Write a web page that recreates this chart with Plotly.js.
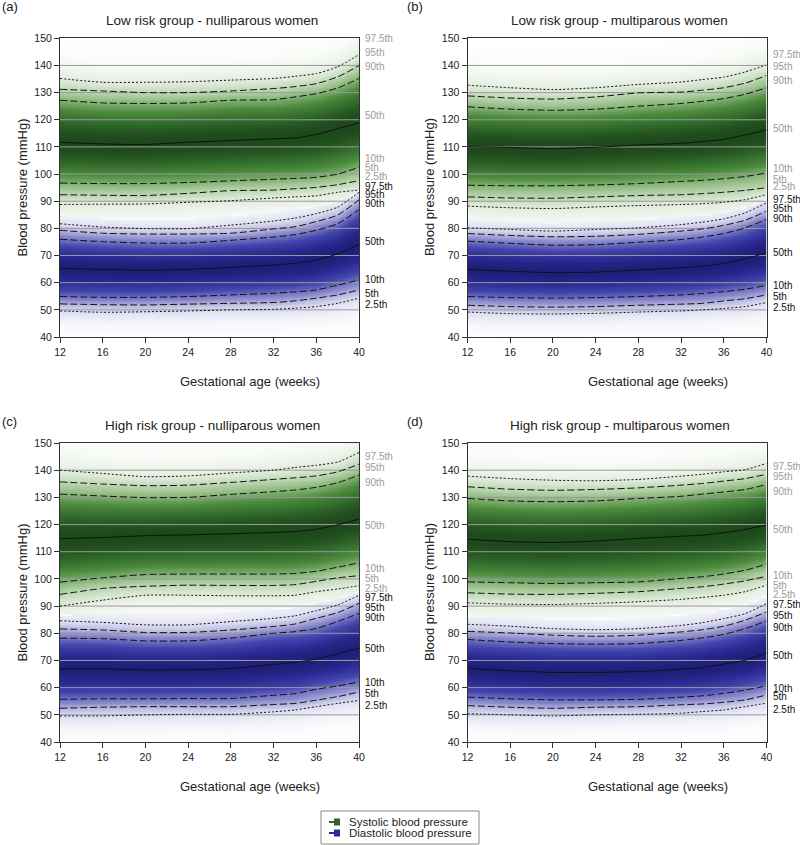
<!DOCTYPE html>
<html>
<head>
<meta charset="utf-8">
<script src="https://cdn.plot.ly/plotly-3.0.1.min.js"></script>
<style>
  body { margin: 0; background: #fff; }
  #chart { width: 800px; height: 845px; }
</style>
</head>
<body>
<div id="chart"></div>
<script>
// gestational weeks where the centile curves were read
var weeks = [12, 16, 20, 24, 28, 32, 34, 36, 38, 40];
var pctNames = ['2.5th', '5th', '10th', '50th', '90th', '95th', '97.5th'];
var pctZ = [-1.96, -1.645, -1.2816, 0, 1.2816, 1.645, 1.96];

// rows: 2.5th, 5th, 10th, 50th, 90th, 95th, 97.5th  (mmHg)
var aSys = [
  [88.8, 88.9, 89.0, 89.6, 90.2, 91.2, 91.6, 92.0, 93.3, 94.1],
  [92.4, 92.2, 92.1, 92.9, 93.9, 94.1, 94.6, 95.1, 96.1, 97.6],
  [96.7, 96.5, 96.5, 96.9, 97.5, 98.1, 98.4, 98.8, 100.0, 102.5],
  [111.7, 111.1, 110.9, 111.7, 112.3, 113.0, 113.3, 114.6, 116.7, 118.9],
  [127.2, 126.2, 126.0, 126.2, 127.2, 127.4, 128.4, 129.6, 131.7, 135.2],
  [131.2, 130.6, 130.0, 130.0, 130.6, 131.5, 132.2, 133.3, 135.8, 139.9],
  [135.2, 133.8, 133.8, 134.0, 134.6, 135.2, 136.0, 137.0, 139.5, 144.0]
];
var aDia = [
  [49.6, 49.1, 49.3, 49.6, 50.0, 50.2, 50.6, 51.2, 52.4, 54.3],
  [52.2, 51.9, 51.8, 52.1, 52.4, 52.7, 53.3, 54.3, 55.5, 57.3],
  [54.9, 54.6, 54.6, 54.9, 55.5, 56.1, 56.6, 57.3, 59.1, 61.0],
  [65.2, 64.9, 64.6, 64.9, 65.6, 66.5, 67.1, 68.4, 70.6, 74.1],
  [76.0, 75.1, 74.6, 74.6, 75.6, 76.8, 77.7, 79.3, 81.7, 86.9],
  [79.3, 78.2, 77.9, 77.9, 78.2, 79.8, 80.6, 82.5, 84.9, 90.5],
  [81.7, 80.5, 79.9, 79.9, 81.2, 82.7, 83.8, 85.4, 87.8, 93.3]
];
var bSys = [
  [88.2, 87.6, 87.3, 87.9, 88.4, 88.8, 89.1, 89.6, 90.6, 92.4],
  [91.6, 91.2, 91.1, 91.6, 92.1, 92.4, 92.8, 93.3, 94.0, 95.0],
  [95.9, 95.7, 95.7, 96.0, 96.5, 97.3, 97.7, 98.3, 99.1, 100.4],
  [110.1, 109.8, 109.4, 109.9, 110.7, 111.3, 112.0, 112.8, 114.4, 116.2],
  [124.8, 123.9, 123.5, 123.9, 125.0, 126.0, 126.8, 127.8, 129.4, 131.8],
  [128.8, 128.0, 127.6, 128.4, 129.9, 130.2, 130.9, 131.8, 133.5, 136.3],
  [132.7, 131.8, 131.1, 131.8, 133.0, 133.9, 134.8, 135.7, 137.6, 140.2]
];
var bDia = [
  [49.2, 48.6, 48.5, 48.7, 49.2, 49.6, 50.0, 50.5, 51.2, 52.7],
  [51.7, 51.2, 51.0, 51.2, 51.7, 52.1, 52.4, 53.3, 54.1, 55.5],
  [54.9, 54.5, 54.3, 54.5, 54.9, 55.5, 56.0, 56.7, 57.6, 59.0],
  [64.9, 64.2, 63.7, 63.9, 64.7, 65.5, 66.1, 67.1, 68.8, 71.0],
  [75.3, 74.5, 73.8, 74.0, 74.9, 75.9, 76.8, 78.1, 80.2, 83.3],
  [78.1, 77.4, 76.9, 77.1, 77.8, 79.0, 79.8, 81.1, 83.0, 86.3],
  [80.2, 79.6, 79.0, 79.6, 80.2, 81.4, 82.3, 83.5, 85.7, 89.4]
];
var cSys = [
  [90.0, 92.2, 94.0, 94.0, 93.8, 93.8, 94.0, 95.3, 96.3, 97.5],
  [94.3, 96.5, 97.3, 97.7, 97.6, 97.6, 97.9, 99.1, 100.4, 101.2],
  [98.8, 100.4, 101.6, 101.8, 101.8, 101.8, 102.0, 102.8, 104.3, 105.9],
  [114.8, 115.2, 115.9, 116.2, 116.6, 117.1, 117.4, 118.3, 119.9, 122.0],
  [131.2, 130.5, 129.9, 130.0, 131.1, 132.1, 132.7, 133.7, 135.4, 138.2],
  [135.7, 134.9, 134.3, 134.5, 135.5, 136.6, 137.2, 137.9, 139.4, 142.2],
  [140.0, 138.8, 137.6, 137.9, 139.0, 140.0, 141.0, 141.8, 143.0, 146.5]
];
var cDia = [
  [49.6, 49.6, 50.0, 50.2, 50.2, 51.1, 51.8, 53.0, 54.2, 55.3],
  [52.4, 52.8, 53.0, 53.0, 53.0, 53.8, 54.2, 55.4, 56.7, 58.4],
  [55.7, 55.9, 55.9, 56.0, 56.0, 57.2, 57.8, 59.4, 60.6, 62.1],
  [66.9, 66.9, 66.5, 66.6, 67.0, 68.5, 69.3, 70.5, 72.4, 74.5],
  [78.2, 78.0, 77.2, 77.2, 78.2, 80.0, 80.6, 81.8, 84.3, 87.3],
  [81.6, 81.2, 80.3, 80.3, 81.2, 82.5, 83.4, 85.5, 87.6, 91.0],
  [84.6, 84.0, 83.1, 83.1, 84.3, 85.5, 86.4, 88.3, 90.4, 94.0]
];
var dSys = [
  [91.2, 90.7, 90.6, 91.0, 91.6, 92.5, 93.2, 94.0, 95.3, 97.7],
  [94.9, 94.4, 94.3, 94.7, 95.3, 96.5, 97.1, 98.1, 99.3, 101.0],
  [98.9, 98.6, 98.3, 98.6, 98.9, 100.2, 100.8, 101.8, 103.2, 105.4],
  [114.6, 113.7, 113.4, 113.9, 114.9, 115.7, 116.1, 117.0, 118.2, 119.8],
  [129.6, 128.7, 128.4, 128.7, 129.6, 130.4, 131.2, 132.0, 132.9, 134.7],
  [133.9, 133.0, 132.6, 132.9, 133.5, 134.5, 135.1, 136.0, 136.9, 138.5],
  [137.8, 136.9, 136.3, 136.1, 136.6, 137.8, 138.5, 139.4, 140.2, 142.5]
];
var dDia = [
  [50.4, 50.0, 49.6, 50.0, 50.2, 50.6, 51.2, 51.8, 53.0, 54.3],
  [53.4, 52.8, 52.4, 52.8, 53.0, 53.7, 54.0, 54.6, 55.5, 57.3],
  [56.5, 55.9, 55.5, 55.5, 55.7, 56.5, 57.0, 57.9, 59.1, 60.6],
  [67.1, 66.2, 65.6, 65.6, 65.9, 66.8, 67.4, 68.7, 70.1, 72.8],
  [77.7, 76.8, 76.2, 76.0, 76.2, 77.4, 78.3, 79.6, 81.7, 84.5],
  [80.7, 80.1, 79.3, 78.9, 79.3, 80.5, 81.3, 82.6, 84.8, 87.8],
  [83.3, 82.6, 81.7, 81.3, 81.7, 82.9, 83.9, 85.4, 87.2, 90.9]
];

var panelTitles = ['Low risk group - nulliparous women', 'Low risk group - multiparous women',
  'High risk group - nulliparous women', 'High risk group - multiparous women'];
var panelTags = ['(a)', '(b)', '(c)', '(d)'];
var legendNames = ['Systolic blood pressure', 'Diastolic blood pressure'];

// where the centile names sit at the right edge (layout, not data)
var labSys = [
  [99.1, 102.5, 105.7, 121.6, 139.5, 144.6, 150.0],
  [95.3, 98.1, 101.9, 116.7, 134.6, 139.5, 144.2],
  [96.5, 100.0, 104.0, 119.5, 135.4, 140.9, 144.9],
  [94.4, 97.7, 101.4, 118.0, 132.0, 137.5, 141.2]
];
var labDia = [
  [52.1, 56.1, 61.1, 75.0, 89.3, 92.3, 95.4],
  [50.9, 54.9, 59.0, 71.0, 83.7, 87.4, 90.7],
  [53.6, 57.8, 61.8, 74.5, 85.9, 89.5, 93.2],
  [51.8, 56.7, 59.8, 72.0, 82.0, 86.6, 90.6]
];

var sysData = [aSys, bSys, cSys, dSys];
var diaData = [aDia, bDia, cDia, dDia];

var FONT = 'Liberation Sans, Arial, sans-serif';
var GREEN = '#2e6629', BLUE = '#2b2b95';
var dashes = ['2px,2px', '7px,3px', '7px,3px', 'solid', '7px,3px', '7px,3px', '2px,2px'];
var xDom = [[60 / 800, 359 / 800], [467.5 / 800, 766.5 / 800]];
var yDom = [[1 - 337 / 845, 1 - 38.3 / 845], [1 - 742 / 845, 1 - 443 / 845]];

function interp(xs, ys, x) {
  for (var i = 0; i < xs.length - 1; i++) {
    if (x <= xs[i + 1]) {
      var t = (x - xs[i]) / (xs[i + 1] - xs[i]);
      return ys[i] + t * (ys[i + 1] - ys[i]);
    }
  }
  return ys[ys.length - 1];
}

// normal score of a pressure value given the centile values at that week
function scoreAt(cut, v) {
  var n = cut.length;
  if (v <= cut[0]) return pctZ[0] + (v - cut[0]) * (pctZ[3] - pctZ[0]) / (cut[3] - cut[0]);
  if (v >= cut[n - 1]) return pctZ[n - 1] + (v - cut[n - 1]) * (pctZ[n - 1] - pctZ[3]) / (cut[n - 1] - cut[3]);
  for (var i = 0; i < n - 1; i++) {
    if (v <= cut[i + 1]) {
      return pctZ[i] + (v - cut[i]) * (pctZ[i + 1] - pctZ[i]) / (cut[i + 1] - cut[i]);
    }
  }
  return 0;
}

var shadeScale = [
  [0, '#1f1f7a'], [0.08, '#2b2b95'], [0.2, '#4545ae'], [0.32, '#8888cc'], [0.42, '#dadaf0'],
  [0.5, '#ffffff'],
  [0.58, '#dfebda'], [0.68, '#9cc38e'], [0.8, '#4d8c3e'], [0.92, '#2e6629'], [1, '#1d481b']
];

var data = [];
var annotations = [];
var shapes = [];
var layout = {
  width: 800, height: 845,
  margin: {l: 0, r: 0, t: 0, b: 0},
  paper_bgcolor: '#fff', plot_bgcolor: '#fff',
  font: {family: FONT, color: '#222'},
  showlegend: false
};

for (var p = 0; p < 4; p++) {
  var sfx = p === 0 ? '' : String(p + 1);
  var xa = 'x' + sfx, ya = 'y' + sfx;
  var col = p % 2, row = Math.floor(p / 2);
  var sys = sysData[p], dia = diaData[p];

  // shaded density behind the centiles, built from the centile curves
  var gx = [], gy = [], gz = [];
  for (var x = 12; x <= 40.001; x += 0.25) gx.push(x);
  for (var y = 40; y <= 150.001; y += 0.5) gy.push(y);
  var cutS = gx.map(function (x) { return sys.map(function (r) { return interp(weeks, r, x); }); });
  var cutD = gx.map(function (x) { return dia.map(function (r) { return interp(weeks, r, x); }); });
  gy.forEach(function (y) {
    var rowz = [];
    gx.forEach(function (x, i) {
      var zs = scoreAt(cutS[i], y), zd = scoreAt(cutD[i], y);
      var s = Math.exp(-zs * zs / 2), d = Math.exp(-zd * zd / 2);
      rowz.push(s >= d ? s : -d);
    });
    gz.push(rowz);
  });
  data.push({
    type: 'heatmap', x: gx, y: gy, z: gz, xaxis: xa, yaxis: ya,
    zmin: -1, zmax: 1, zsmooth: 'best', colorscale: shadeScale,
    showscale: false, hoverinfo: 'skip'
  });

  // grid lines drawn over the shading
  var lx = [], ly = [];
  for (var g = 50; g <= 140; g += 10) { lx.push(12, 40, null); ly.push(g, g, null); }
  data.push({
    type: 'scatter', mode: 'lines', x: lx, y: ly, xaxis: xa, yaxis: ya,
    line: {color: '#9a9a9a', width: 1}, hoverinfo: 'skip'
  });

  [sys, dia].forEach(function (set) {
    set.forEach(function (vals, k) {
      data.push({
        type: 'scatter', mode: 'lines', x: weeks, y: vals, xaxis: xa, yaxis: ya,
        line: {color: '#111', width: 1, dash: dashes[k], shape: 'spline', smoothing: 0.6},
        hoverinfo: 'skip'
      });
    });
  });

  layout['xaxis' + sfx] = {
    domain: xDom[col], anchor: ya, range: [12, 40],
    tickvals: [12, 16, 20, 24, 28, 32, 36, 40],
    ticks: 'outside', ticklen: 5, tickcolor: '#333',
    showline: true, mirror: true, linecolor: '#333', linewidth: 1,
    showgrid: false, zeroline: false, tickfont: {size: 10.5, color: '#222'}
  };
  layout['yaxis' + sfx] = {
    domain: yDom[row], anchor: xa, range: [40, 150], tick0: 40, dtick: 10,
    ticks: 'outside', ticklen: 5, tickcolor: '#333',
    showline: true, mirror: true, linecolor: '#333', linewidth: 1,
    showgrid: false, zeroline: false, tickfont: {size: 10.5, color: '#222'}
  };

  var dx = col * 407.5, dy = row * 405;
  annotations.push({
    xref: 'paper', yref: 'paper', x: (0 + col * 405) / 800, y: 1 - (7 + row * 414) / 845,
    xanchor: 'left', yanchor: 'middle', text: panelTags[p], showarrow: false,
    font: {size: 13, color: '#222'}
  });
  annotations.push({
    xref: 'paper', yref: 'paper', x: (212 + dx) / 800, y: 1 - (20 + dy) / 845,
    xanchor: 'center', yanchor: 'middle', text: panelTitles[p], showarrow: false,
    font: {size: 13.5, color: '#222'}
  });
  annotations.push({
    xref: 'paper', yref: 'paper', x: (250 + dx) / 800, y: 1 - (381 + dy) / 845,
    xanchor: 'center', yanchor: 'middle', text: 'Gestational age (weeks)', showarrow: false,
    font: {size: 13, color: '#222'}
  });
  annotations.push({
    xref: 'paper', yref: 'paper', x: (22 + dx) / 800, y: 1 - (187.5 + dy) / 845,
    xanchor: 'center', yanchor: 'middle', text: 'Blood pressure (mmHg)', showarrow: false,
    textangle: -90, font: {size: 13, color: '#222'}
  });
  pctNames.forEach(function (name, k) {
    annotations.push({
      xref: xa, yref: ya, x: 40, y: labSys[p][k], xshift: 4, xanchor: 'left', yanchor: 'middle',
      text: name, showarrow: false, font: {size: 10, color: '#9a9a9a'}
    });
    annotations.push({
      xref: xa, yref: ya, x: 40, y: labDia[p][k], xshift: 4, xanchor: 'left', yanchor: 'middle',
      text: name, showarrow: false, font: {size: 10, color: '#111'}
    });
  });
}

// compact legend box at the bottom
shapes.push({
  type: 'rect', xref: 'paper', yref: 'paper',
  x0: 321 / 800, x1: 479 / 800, y0: 1 - 844 / 845, y1: 1 - 811 / 845,
  line: {color: '#888', width: 1}, fillcolor: '#fff'
});
[GREEN, BLUE].forEach(function (c, i) {
  var yc = 822 + i * 11;
  shapes.push({
    type: 'line', xref: 'paper', yref: 'paper',
    x0: 329 / 800, x1: 340 / 800, y0: 1 - yc / 845, y1: 1 - yc / 845,
    line: {color: c, width: 2}
  });
  shapes.push({
    type: 'rect', xref: 'paper', yref: 'paper',
    x0: 334 / 800, x1: 340 / 800, y0: 1 - (yc + 3.5) / 845, y1: 1 - (yc - 3.5) / 845,
    line: {width: 0}, fillcolor: c
  });
  annotations.push({
    xref: 'paper', yref: 'paper', x: 347 / 800, y: 1 - yc / 845,
    xanchor: 'left', yanchor: 'middle', text: legendNames[i], showarrow: false,
    font: {size: 11.5, color: '#222'}
  });
});

layout.annotations = annotations;
layout.shapes = shapes;

Plotly.newPlot('chart', data, layout, {displayModeBar: false, staticPlot: true});
</script>
</body>
</html>
